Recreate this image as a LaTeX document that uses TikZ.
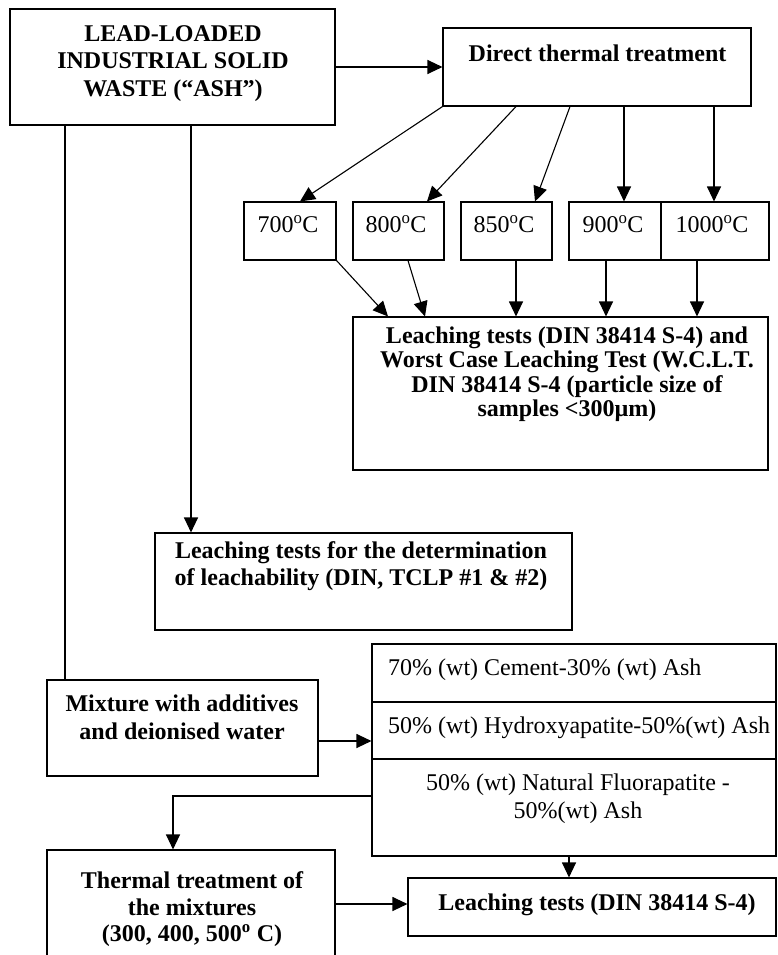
\documentclass[tikz,border=0pt]{standalone}
\usepackage{fontspec}
\setmainfont{Liberation Serif}
\usetikzlibrary{arrows.meta}
\begin{document}
\begin{tikzpicture}[x=1pt,y=-1pt,
  box/.style={draw, line width=1.1pt, inner sep=0pt, rectangle},
  txt/.style={inner sep=0pt, align=center, font=\fontsize{24}{27.5}\selectfont},
  btxt/.style={inner sep=0pt, align=center, font=\fontsize{24}{27.5}\selectfont\bfseries},
  conn/.style={line width=1.1pt},
  arr/.style={conn, -{Triangle[length=15pt,width=14pt]}}]
\useasboundingbox (0,0) rectangle (778,955);
\clip (0,0) rectangle (778,955);

% boxes
\node[box, minimum width=325pt, minimum height=116pt] (ash) at (172.5,67) {};
\node[box, minimum width=308pt, minimum height=78pt] (direct) at (597,67) {};
\node[box, minimum width=92pt, minimum height=58pt] (t700) at (290,231) {};
\node[box, minimum width=91pt, minimum height=58pt] (t800) at (398.5,231) {};
\node[box, minimum width=91pt, minimum height=58pt] (t850) at (506.5,231) {};
\node[box, minimum width=92pt, minimum height=58pt] (t900) at (615,231) {};
\node[box, minimum width=108pt, minimum height=58pt] (t1000) at (715,231) {};
\node[box, minimum width=415pt, minimum height=153pt] (leach1) at (560.5,393.5) {};
\node[box, minimum width=417pt, minimum height=97pt] (leach2) at (363.5,581.5) {};
\node[box, minimum width=271pt, minimum height=96pt] (mixture) at (182.5,728) {};
\node[box, minimum width=404pt, minimum height=212pt] (mix) at (574,750) {};
\node[box, minimum width=288pt, minimum height=125pt] (thermal) at (191,912.5) {};
\node[box, minimum width=368pt, minimum height=58pt] (leach3) at (592,907) {};

% row dividers of the mixtures box
\draw[conn] (mix.west |- 0,702) -- (mix.east |- 0,702);
\draw[conn] (mix.west |- 0,759) -- (mix.east |- 0,759);

% texts
\node[btxt] (ashT) at (173,63.5) {LEAD-LOADED\\INDUSTRIAL SOLID\\WASTE (``ASH'')};
\node[btxt] (dirT) at (597.5,53) {Direct thermal treatment};
\node[txt] (t700T) at (288,224) {700\textsuperscript{o}C};
\node[txt] (t800T) at (396,224) {800\textsuperscript{o}C};
\node[txt] (t850T) at (504,224) {850\textsuperscript{o}C};
\node[txt] (t900T) at (613,224) {900\textsuperscript{o}C};
\node[txt] (t1000T) at (712,224) {1000\textsuperscript{o}C};
\node[btxt, font=\fontsize{24}{24.5}\selectfont\bfseries] (l1T) at (567,374)
  {Leaching tests (DIN 38414 S-4) and\\Worst Case Leaching Test (W.C.L.T.\\DIN 38414 S-4 (particle size of\\samples <300µm)};
\node[btxt, font=\fontsize{24}{27}\selectfont\bfseries] (l2T) at (361,566)
  {Leaching tests for the determination\\of leachability (DIN, TCLP \#1 \& \#2)};
\node[btxt, font=\fontsize{24}{28}\selectfont\bfseries] (mixT) at (182,717.5) {Mixture with additives\\and deionised water};
\node[txt, anchor=west] (r1) at (388,670) {70\% (wt) Cement-30\% (wt) Ash};
\node[txt, anchor=west] (r2) at (388,728) {50\% (wt) Hydroxyapatite-50\%(wt) Ash};
\node[txt, font=\fontsize{24}{28}\selectfont] (r3) at (578,798.5) {50\% (wt) Natural Fluorapatite -\\50\%(wt) Ash};
\node[btxt, font=\fontsize{24}{26.5}\selectfont\bfseries] (thT) at (192,909.5) {Thermal treatment of\\the mixtures\\(300, 400, 500\textsuperscript{o} C)};
\node[btxt] (l3T) at (597,905) {Leaching tests (DIN 38414 S-4)};

% connectors
\draw[arr] (ash.east) -- (direct.west);
\draw[arr] (direct.south west) -- ([xshift=10pt]t700.north);
\draw[arr] ([xshift=-81pt]direct.south) -- ([xshift=28.5pt]t800.north);
\draw[arr] ([xshift=-27pt]direct.south) -- ([xshift=28.5pt]t850.north);
\draw[arr] ([xshift=27pt]direct.south) -- ([xshift=9pt]t900.north);
\draw[arr] ([xshift=117pt]direct.south) -- ([xshift=-1pt]t1000.north);

\draw[arr] (t700.south east) -- ([xshift=-172.5pt]leach1.north);
\draw[arr] ([xshift=9.5pt]t800.south) -- ([xshift=-135.5pt]leach1.north);
\draw[arr] ([xshift=9.5pt]t850.south) -- ([xshift=9.5pt]t850.south |- leach1.north);
\draw[arr] ([xshift=-9pt]t900.south) -- ([xshift=-9pt]t900.south |- leach1.north);
\draw[arr] ([xshift=-18pt]t1000.south) -- ([xshift=-18pt]t1000.south |- leach1.north);

\draw[arr] ([xshift=18.5pt]ash.south) -- ([xshift=18.5pt]ash.south |- leach2.north);
\draw[conn] ([xshift=-107.5pt]ash.south) -- ([xshift=-107.5pt]ash.south |- mixture.north);

\draw[arr] ([yshift=-13pt]mixture.east) -- ([yshift=-13pt]mixture.east -| mix.west);
\draw[arr] ([yshift=-46pt]mix.west) -| ([xshift=-18pt]thermal.north);
\draw[arr] ([xshift=-5pt]mix.south) -- ([xshift=-5pt]mix.south |- leach3.north);
\draw[arr] ([yshift=8.5pt]thermal.east) -- ([yshift=8.5pt]thermal.east -| leach3.west);
\end{tikzpicture}
\end{document}
